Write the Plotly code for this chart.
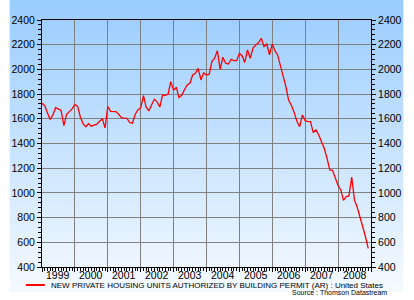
import plotly.graph_objects as go
import pandas as pd

# ---- data (thousands of units, SAAR), monthly Jan 1999 - Dec 2008 ----
start_month = "1999-01-01"
permits = [
    1726, 1706, 1650, 1595, 1630, 1690, 1680, 1668, 1545, 1637, 1658, 1680,   # 1999
    1717, 1700, 1617, 1560, 1536, 1560, 1540, 1548, 1556, 1580, 1600, 1526,   # 2000
    1698, 1660, 1658, 1658, 1637, 1609, 1605, 1604, 1570, 1564, 1637, 1672,   # 2001
    1690, 1788, 1698, 1664, 1712, 1758, 1739, 1695, 1793, 1790, 1799, 1901,   # 2002
    1830, 1856, 1771, 1790, 1834, 1874, 1888, 1955, 1969, 2009, 1915, 1972,   # 2003
    1955, 1961, 2063, 2090, 2152, 2000, 2099, 2050, 2044, 2082, 2071, 2071,   # 2004
    2130, 2109, 2055, 2158, 2090, 2172, 2198, 2215, 2252, 2184, 2205, 2117,   # 2005
    2206, 2150, 2117, 2030, 1930, 1860, 1752, 1710, 1650, 1580, 1536, 1631,   # 2006
    1585, 1577, 1577, 1488, 1510, 1469, 1415, 1361, 1280, 1186, 1183, 1120,   # 2007
    1060, 1024, 940, 970, 975, 1128, 943, 884, 807, 726, 645, 550,            # 2008
]
months = pd.date_range(start_month, periods=len(permits), freq="MS")
years = [1999, 2000, 2001, 2002, 2003, 2004, 2005, 2006, 2007, 2008]
y_ticks = [400, 600, 800, 1000, 1200, 1400, 1600, 1800, 2000, 2200, 2400]
series_name = "NEW PRIVATE HOUSING UNITS AUTHORIZED BY BUILDING PERMIT (AR) : United States"
source_text = "Source : Thomson Datastream"

# ---- geometry ----
W, H = 414, 300
ML, MR, MT, MB = 34, 34, 20, 33
PW, PH = W - ML - MR, H - MT - MB


def px_to_py(ypx):
    return (H - MB - ypx) / PH


def px_to_px(xpx):
    return (xpx - ML) / PW


fig = go.Figure()
fig.add_trace(go.Scatter(x=months, y=permits, mode="lines",
                         line=dict(color="#FF0000", width=1.3),
                         showlegend=False, hoverinfo="x+y"))
fig.add_trace(go.Scatter(x=months, y=permits, mode="lines", yaxis="y2",
                         line=dict(color="rgba(0,0,0,0)", width=0),
                         showlegend=False, hoverinfo="skip"))

# background gradient
shapes = []
top = (153, 204, 255)
bot = (246, 250, 255)
grad_end = 292
step = 2
for i in range(0, grad_end, step):
    t = (i + step / 2) / grad_end
    c = tuple(round(top[k] + (bot[k] - top[k]) * t) for k in range(3))
    shapes.append(dict(type="rect", xref="paper", yref="paper",
                       x0=px_to_px(0), x1=px_to_px(W),
                       y0=px_to_py(i + step), y1=px_to_py(i),
                       fillcolor="rgb(%d,%d,%d)" % c, line=dict(width=0),
                       layer="below"))

# legend sample line
shapes.append(dict(type="line", xref="paper", yref="paper",
                   x0=px_to_px(17), x1=px_to_px(37),
                   y0=px_to_py(285), y1=px_to_py(285),
                   line=dict(color="#FF0000", width=2)))

font_family = "Liberation Sans, Arial, sans-serif"
tickfont = dict(family=font_family, size=10.5, color="black")
common_y = dict(range=[400, 2400], tickvals=y_ticks, showline=True, linecolor="black",
                linewidth=1, ticks="outside", ticklen=4, tickcolor="black",
                minor=dict(dtick=40, ticks="outside", ticklen=3, tickcolor="black", showgrid=False),
                tickfont=tickfont, zeroline=False, fixedrange=True)

annotations = []
# year labels centred in each year period
for yr in years:
    annotations.append(dict(text=str(yr), xref="x", yref="paper",
                            x="%d-07-02" % yr, y=px_to_py(274.5),
                            xanchor="center", yanchor="middle", showarrow=False,
                            font=tickfont))
annotations.append(dict(text=series_name, xref="paper", yref="paper",
                        x=px_to_px(41), y=px_to_py(285), xanchor="left", yanchor="middle",
                        showarrow=False,
                        font=dict(family="Liberation Sans Narrow, Arial Narrow, Liberation Sans, sans-serif",
                                  size=8, color="black")))
annotations.append(dict(text=source_text, xref="paper", yref="paper",
                        x=px_to_px(399), y=px_to_py(293), xanchor="right", yanchor="middle",
                        showarrow=False,
                        font=dict(family="Liberation Sans Narrow, Arial Narrow, Liberation Sans, sans-serif",
                                  size=7, color="black")))

fig.update_layout(
    width=W, height=H,
    margin=dict(l=ML, r=MR, t=MT, b=MB),
    paper_bgcolor="white",
    plot_bgcolor="rgba(0,0,0,0)",
    showlegend=False,
    shapes=shapes,
    xaxis=dict(type="date", range=["1999-01-01", "2009-01-01"], tick0="1999-01-01",
               dtick="M12", showticklabels=False,
               showgrid=True, gridcolor="#808080", gridwidth=1,
               showline=True, linecolor="black", linewidth=1, mirror=True,
               ticks="outside", ticklen=4, tickcolor="black",
               minor=dict(dtick="M1", ticks="outside", ticklen=3, tickcolor="black", showgrid=False),
               fixedrange=True),
    yaxis=dict(showgrid=True, gridcolor="#808080", gridwidth=1, side="left", **common_y),
    yaxis2=dict(overlaying="y", side="right", showgrid=False, **common_y),
    annotations=annotations,
)

fig.write_html("out.html")
